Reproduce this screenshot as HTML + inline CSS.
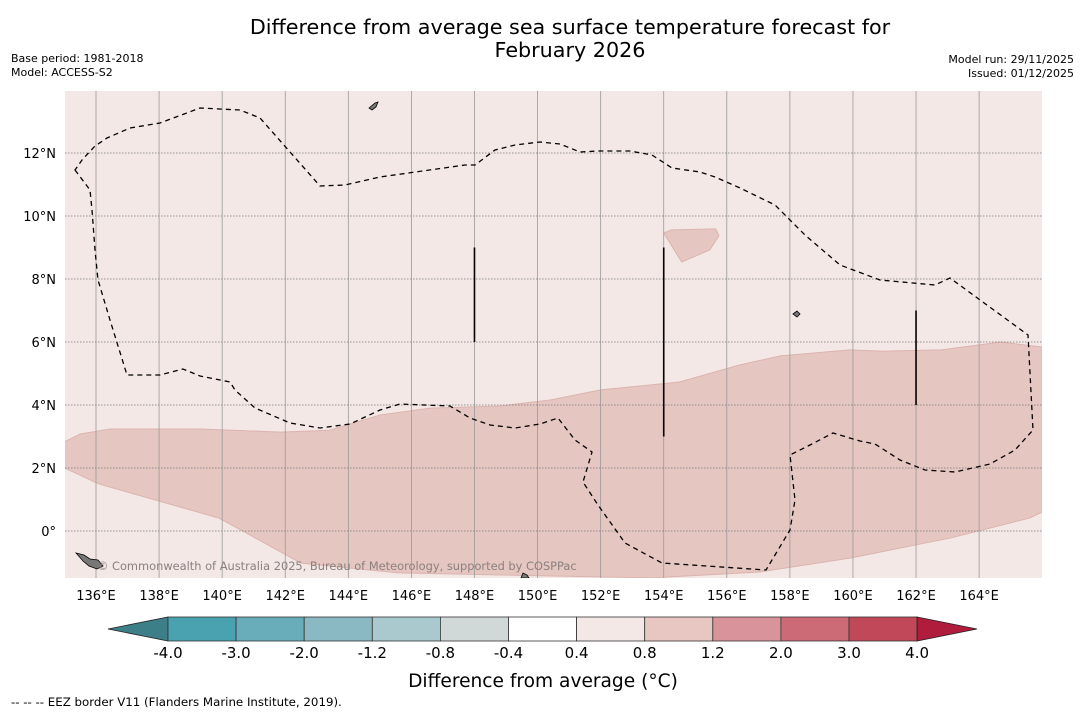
<!DOCTYPE html>
<html><head><meta charset="utf-8"><style>
body{margin:0;background:#fff;width:1085px;height:713px;overflow:hidden;font-family:"DejaVu Sans","Liberation Sans",sans-serif;}
svg text{font-family:"DejaVu Sans","Liberation Sans",sans-serif;}
</style></head><body>
<svg id="chart" width="1085" height="713" xmlns="http://www.w3.org/2000/svg">
<text x="570" y="34" font-size="20.7" text-anchor="middle">Difference from average sea surface temperature forecast for</text>
<text x="570" y="57" font-size="20.7" text-anchor="middle">February 2026</text>
<text x="11" y="62" font-size="11">Base period: 1981-2018</text>
<text x="11" y="76" font-size="11">Model: ACCESS-S2</text>
<text x="1074" y="63" font-size="11" text-anchor="end">Model run: 29/11/2025</text>
<text x="1074" y="77" font-size="11" text-anchor="end">Issued: 01/12/2025</text>
<g id="map"></g>
<g id="cbar"></g>
<text x="543" y="687" font-size="18.6" text-anchor="middle">Difference from average (°C)</text>
<text x="11" y="706" font-size="11.8">--  --  -- EEZ border V11 (Flanders Marine Institute, 2019).</text>
</svg>
<script>
const lonTicks=[136,138,140,142,144,146,148,150,152,154,156,158,160,162,164];
const latTicks=[0,2,4,6,8,10,12];
const bandLon=[135.0,135.5,136.45,139.3,141.85,143.4,145.0,146.6,148.8,150.4,152.0,154.5,156.4,157.7,159.9,160.9,162.8,164.7,166.0,166.0,165.6,163.1,159.9,157.05,153.6,145.6,142.5,139.9,136.1,135.0];
const bandLat=[2.83,3.08,3.24,3.24,3.14,3.2,3.68,3.9,3.97,4.16,4.48,4.73,5.27,5.56,5.75,5.71,5.75,6.0,5.84,0.6,0.41,-0.22,-0.86,-1.3,-1.49,-1.33,-1.02,0.41,1.49,2.0];
const patchLon=[154.0,154.25,155.65,155.75,155.46,154.57];
const patchLat=[9.46,9.56,9.59,9.37,8.92,8.54];
const segLon=[148,154,162];
const segLat0=[9,9,7];
const segLat1=[6,3,4];
const cbBounds=[-4.0,-3.0,-2.0,-1.2,-0.8,-0.4,0.4,0.8,1.2,2.0,3.0,4.0];
const cbColors=["#4aa1b0","#6aadba","#8ab9c4","#a9c9ce","#d1d8d8","#ffffff","#f3e8e6","#e8c6c1","#d9939a","#cc6a75","#c04858"];
const NS="http://www.w3.org/2000/svg";
const X=lon=>96+(lon-136)*31.54, Y=lat=>531-lat*31.5;
function mk(t,a,p){const e=document.createElementNS(NS,t);for(const k in a)e.setAttribute(k,a[k]);p.appendChild(e);return e;}
const map=document.getElementById('map');
let bg=mk('rect',{x:65,y:91,width:977,height:487,fill:'#f3e8e6'},map);


const clip=mk('clipPath',{id:'mc'},map);mk('rect',{x:65,y:91,width:977,height:487},clip);
const g=mk('g',{'clip-path':'url(#mc)'},map);
let band=mk('polygon',{points:bandLon.map((l,i)=>X(l)+','+Y(bandLat[i])).join(' '),fill:'#e6c6c1',stroke:'#dcb4ae','stroke-width':1},g);


let patch=mk('polygon',{points:patchLon.map((l,i)=>X(l)+','+Y(patchLat[i])).join(' '),fill:'#e6c6c1',stroke:'#dcb4ae'},g);


lonTicks.forEach(l=>{let ln=mk('line',{x1:X(l),x2:X(l),y1:91,y2:578,stroke:'#999','stroke-width':0.8},g);


let t=mk('text',{x:X(l),y:600,'font-size':13,'text-anchor':'middle'},map);t.textContent=l+'°E';

});
latTicks.forEach(l=>{let ln=mk('line',{x1:65,x2:1042,y1:Y(l),y2:Y(l),stroke:'#777','stroke-width':0.8,'stroke-dasharray':'1.5,1.5'},g);


let t=mk('text',{x:56,y:Y(l)+5,'font-size':13,'text-anchor':'end'},map);t.textContent=l===0?'0°':l+'°N';

});
let eez=mk('path',{d:'M75,170 L90,190 L92,210 L95,250 L98,280 L110,320 L127,375 L160,375 L183,369 L200,376 L230,382 L235,390 L255,408 L290,423 L320,428 L350,424 L380,410 L400,404 L450,406 L470,418 L490,425 L515,428 L540,424 L558,418 L575,440 L592,452 L583,482 L598,505 L625,543 L662,563 L766,570 L775,555 L790,530 L795,500 L790,455 L810,445 L833,433 L860,441 L875,444 L900,460 L925,470 L955,472 L990,464 L1015,450 L1033,430 L1028,335 L950,278 L935,285 L880,280 L840,265 L805,235 L775,205 L740,188 L715,177 L700,172 L672,168 L652,155 L630,151 L598,151 L580,152 L560,144 L540,142 L515,145 L495,150 L475,165 L465,165 L380,177 L345,185 L320,186 L260,118 L240,110 L200,108 L160,123 L130,128 L107,138 L95,146 L82,160 Z',fill:'none',stroke:'#000','stroke-width':1.3,'stroke-dasharray':'5,4'},g);


segLon.forEach((l,i)=>{let s=mk('line',{x1:X(l),x2:X(l),y1:Y(segLat0[i]),y2:Y(segLat1[i]),stroke:'#000','stroke-width':1.6},g);

});
[[76,556,'M76,553 l8,2 l6,4 l8,1 l5,6 l-6,3 l-8,-3 l-6,-5 Z'],[370,106,'M369,108 l6,-5 l3,-1 l-2,5 l-4,3 Z'],[796,314,'M793,314 l4,-3 l3,3 l-3,3 Z'],[522,574,'M521,578 l2,-5 l4,2 l2,3 Z']].forEach(p=>{let e=mk('path',{d:p[2],fill:'#777',stroke:'#000','stroke-width':0.8},g);

});
let cp=mk('text',{x:97,y:570,'font-size':11.4,fill:'#8a8080'},map);cp.textContent='© Commonwealth of Australia 2025, Bureau of Meteorology, supported by COSPPac';


const cb=document.getElementById('cbar');
const cx0=168,cw=68.1,cy=617,ch=24;
let le=mk('polygon',{points:`108,${cy+ch/2} ${cx0},${cy} ${cx0},${cy+ch}`,fill:'#3c7f88',stroke:'#222','stroke-width':0.8},cb);


cbColors.forEach((c,i)=>{let r=mk('rect',{x:cx0+i*cw,y:cy,width:cw,height:ch,fill:c,stroke:'#333','stroke-width':0.8},cb);

});
const xe=cx0+cbColors.length*cw;
let re=mk('polygon',{points:`${xe},${cy} 977,${cy+ch/2} ${xe},${cy+ch}`,fill:'#b01c3c',stroke:'#222','stroke-width':0.8},cb);


cbBounds.forEach((v,i)=>{let t=mk('text',{x:cx0+i*cw,y:658,'font-size':15,'text-anchor':'middle'},cb);t.textContent=v.toFixed(1);

});
</script>
</body></html>
